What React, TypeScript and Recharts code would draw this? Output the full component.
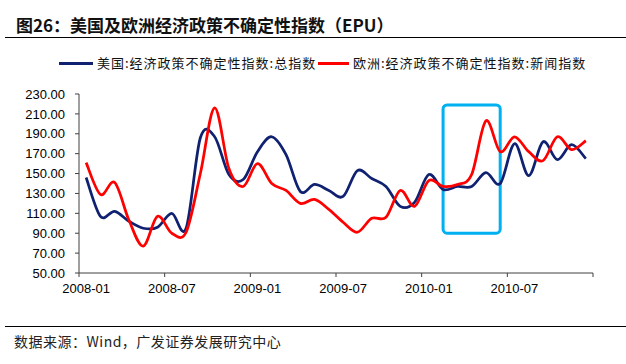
import React from "react";
import { LineChart, Line, XAxis, YAxis, ReferenceArea } from "recharts";

const months: string[] = [
  "2008-01","2008-02","2008-03","2008-04","2008-05","2008-06","2008-07","2008-08","2008-09","2008-10","2008-11","2008-12",
  "2009-01","2009-02","2009-03","2009-04","2009-05","2009-06","2009-07","2009-08","2009-09","2009-10","2009-11","2009-12",
  "2010-01","2010-02","2010-03","2010-04","2010-05","2010-06","2010-07","2010-08","2010-09","2010-10","2010-11","2010-12",
];

const usEpu: number[] = [
  146, 107, 112, 102, 95, 96, 110, 95, 186, 187, 149, 144,
  172, 187, 169, 132, 139, 133, 127, 153, 145, 137, 117, 121,
  149, 134, 137, 137, 151, 140, 180, 148, 182, 164, 179, 165,
];

const euEpu: number[] = [
  161, 129, 141, 103, 77, 107, 90, 91, 150, 216, 155, 137,
  160, 140, 133, 120, 124, 114, 101, 91, 105, 106, 133, 117,
  143, 137, 139, 149, 203, 172, 187, 172, 163, 187, 174, 183,
];

const yTicks: number[] = [50, 70, 90, 110, 130, 150, 170, 190, 210, 230];

const highlightFrom = "2010-02";
const highlightTo = "2010-06";
const highlightLow = 90;
const highlightHigh = 219;

const title = "图26：美国及欧洲经济政策不确定性指数（EPU）";
const usName = "美国:经济政策不确定性指数:总指数";
const euName = "欧洲:经济政策不确定性指数:新闻指数";
const source = "数据来源：Wind，广发证券发展研究中心";

const data = months.map((m, i) => ({ month: m, us: usEpu[i], eu: euEpu[i] }));

const W = 626;
const H = 364;
const M = { top: 94, right: 33, bottom: 61, left: 0 };
const Y_AXIS_W = 79;
const X_AXIS_H = 30;
const PLOT_W = W - M.left - Y_AXIS_W - M.right;
const HALF_BAND = PLOT_W / months.length / 2;

const BLUE = "#0F2170";
const RED = "#FF0000";
const CYAN = "#00B0F0";
const AXIS = "#404040";
const LATIN = "'Liberation Sans', Arial, sans-serif";
const CJK = "'Noto Sans CJK SC', 'Noto Sans', sans-serif";

// Excel-like smoothed line (Catmull-Rom through the points)
const excelCurve: any = (context: any) => {
  let pts: number[][] = [];
  return {
    areaStart() {},
    areaEnd() {},
    lineStart() {
      pts = [];
    },
    point(x: number, y: number) {
      pts.push([+x, +y]);
    },
    lineEnd() {
      const n = pts.length;
      if (!n) return;
      context.moveTo(pts[0][0], pts[0][1]);
      for (let i = 0; i < n - 1; i++) {
        const p0 = pts[Math.max(0, i - 1)];
        const p1 = pts[i];
        const p2 = pts[i + 1];
        const p3 = pts[Math.min(n - 1, i + 2)];
        context.bezierCurveTo(
          p1[0] + (p2[0] - p0[0]) / 6,
          p1[1] + (p2[1] - p0[1]) / 6,
          p2[0] - (p3[0] - p1[0]) / 6,
          p2[1] - (p3[1] - p1[1]) / 6,
          p2[0],
          p2[1]
        );
      }
    },
  };
};

const XTick = (props: any) => {
  const { x, y, payload, index } = props;
  const n = months.length;
  const showLabel = index % 6 === 0;
  const isLast = index === n - 1;
  if (!showLabel && !isLast) return <g />;
  return (
    <g>
      {showLabel && (
        <line x1={x - HALF_BAND} y1={y} x2={x - HALF_BAND} y2={y + 4} stroke={AXIS} strokeWidth={1} />
      )}
      {isLast && (
        <line x1={x + HALF_BAND} y1={y} x2={x + HALF_BAND} y2={y + 4} stroke={AXIS} strokeWidth={1} />
      )}
      {showLabel && (
        <text x={x} y={y + 20} textAnchor="middle" fontSize={13} fontFamily={LATIN} fill="#000">
          {payload.value}
        </text>
      )}
    </g>
  );
};

const HighlightShape = (p: any) => (
  <rect x={p.x} y={p.y} width={p.width} height={p.height} rx={4} ry={4} fill="none" stroke={CYAN} strokeWidth={3} />
);

const LegendItem = ({ color, text, lineLeft, lineWidth, textLeft }: any) => (
  <>
    <div style={{ position: "absolute", left: lineLeft, top: 61.5, width: lineWidth, height: 3, background: color }} />
    <div
      style={{
        position: "absolute",
        left: textLeft,
        top: 54,
        height: 18,
        lineHeight: "18px",
        fontSize: 13,
        letterSpacing: 1,
        fontFamily: CJK,
        color: "#111",
        whiteSpace: "nowrap",
      }}
    >
      {text}
    </div>
  </>
);

export default function App() {
  return (
    <div style={{ position: "absolute", left: 0, top: 0, width: W, height: H, background: "#fff", overflow: "hidden" }}>
      <div
        style={{
          position: "absolute",
          left: 16,
          top: 14,
          height: 22,
          lineHeight: "22px",
          fontSize: 17,
          fontWeight: 700,
          fontFamily: CJK,
          color: "#111",
          whiteSpace: "nowrap",
        }}
      >
        {title}
      </div>
      <div style={{ position: "absolute", left: 5, top: 37, width: W - 5, height: 1, background: "#000" }} />

      <LegendItem color={BLUE} text={usName} lineLeft={59} lineWidth={34} textLeft={97} />
      <LegendItem color={RED} text={euName} lineLeft={318} lineWidth={31} textLeft={353} />

      <div style={{ position: "absolute", left: 0, top: 0 }}>
        <LineChart width={W} height={H} data={data} margin={M}>
          <XAxis
            dataKey="month"
            type="category"
            interval={0}
            height={X_AXIS_H}
            padding={{ left: HALF_BAND, right: HALF_BAND }}
            tickSize={0}
            tickMargin={0}
            tickLine={false}
            axisLine={{ stroke: AXIS, strokeWidth: 1 }}
            tick={<XTick />}
          />
          <YAxis
            type="number"
            domain={[50, 230]}
            ticks={yTicks}
            interval={0}
            width={Y_AXIS_W}
            tickSize={4}
            tickMargin={10}
            tickFormatter={(v: number) => v.toFixed(2)}
            tick={{ fontSize: 13, fontFamily: LATIN, fill: "#000" }}
            tickLine={{ stroke: AXIS }}
            axisLine={{ stroke: AXIS, strokeWidth: 1 }}
          />
          <Line
            dataKey="us"
            type={excelCurve}
            stroke={BLUE}
            strokeWidth={2.75}
            dot={false}
            isAnimationActive={false}
          />
          <Line
            dataKey="eu"
            type={excelCurve}
            stroke={RED}
            strokeWidth={2.75}
            dot={false}
            isAnimationActive={false}
          />
          <ReferenceArea
            x1={highlightFrom}
            x2={highlightTo}
            y1={highlightLow}
            y2={highlightHigh}
            shape={<HighlightShape />}
          />
        </LineChart>
      </div>

      <div style={{ position: "absolute", left: 5, top: 326, width: W - 5, height: 1, background: "#000" }} />
      <div
        style={{
          position: "absolute",
          left: 14,
          top: 331,
          height: 20,
          lineHeight: "20px",
          fontSize: 14,
          letterSpacing: 0.5,
          fontFamily: CJK,
          color: "#222",
          whiteSpace: "nowrap",
        }}
      >
        {source}
      </div>
    </div>
  );
}
